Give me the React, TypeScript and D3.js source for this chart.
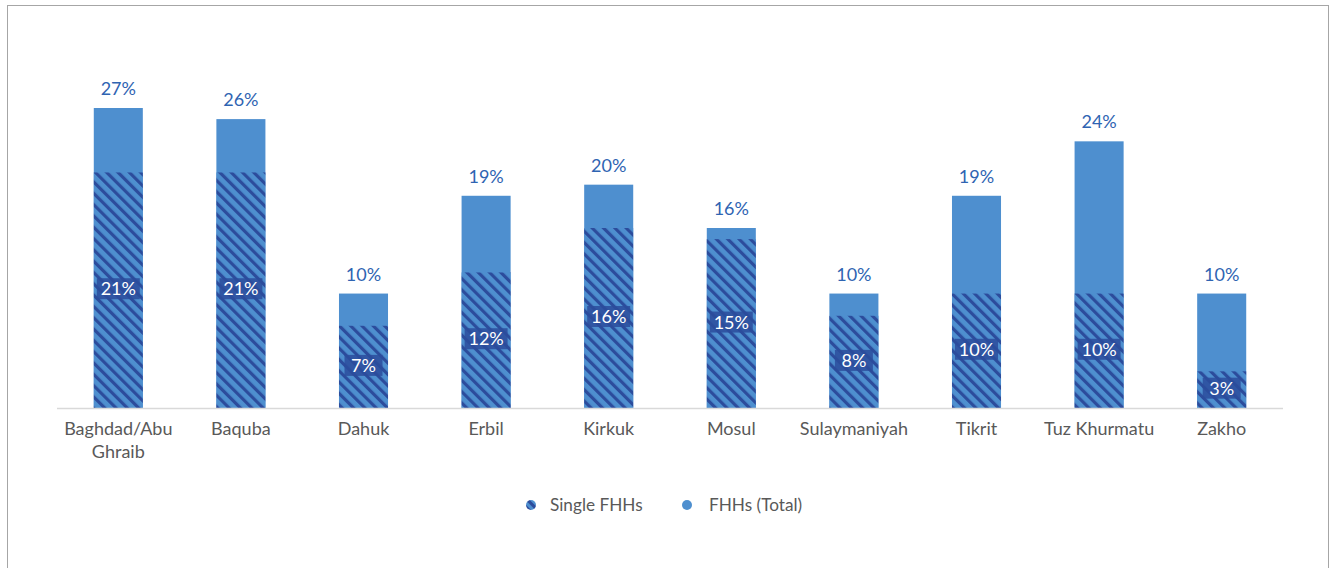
import React from "react";
import * as d3 from "d3";

const categories = ["Baghdad/Abu Ghraib", "Baquba", "Dahuk", "Erbil", "Kirkuk", "Mosul", "Sulaymaniyah", "Tikrit", "Tuz Khurmatu", "Zakho"];
const totalFHHs = [27.0, 26.0, 10.3, 19.1, 20.1, 16.2, 10.3, 19.1, 24.0, 10.3];
const singleFHHs = [21.2, 21.2, 7.4, 12.2, 16.2, 15.2, 8.3, 10.3, 10.3, 3.3];
const seriesNames = ["Single FHHs", "FHHs (Total)"];

const W = 1330;
const H = 568;
const FONT = "Lato, 'Open Sans', sans-serif";
const LIGHT = "#4e8fcf";
const DARK = "#2c4c9c";
const GREY = "#595959";

export default function App() {
  const x = d3.scaleBand<string>().domain(categories).range([57, 1283]).paddingInner(0.6).paddingOuter(0.3);
  const y = d3.scaleLinear().domain([0, 27]).range([408, 108]);
  const bw = x.bandwidth();

  const wrap = (s: string) => {
    if (s === "Baghdad/Abu Ghraib") return ["Baghdad/Abu", "Ghraib"];
    return [s];
  };

  return (
    <svg width={W} height={H} style={{ position: "absolute", left: 0, top: 0, display: "block", background: "#fff" }} fontFamily={FONT}>
      <defs>
        <pattern id="hatch" patternUnits="userSpaceOnUse" width="8" height="8" patternTransform="rotate(-45)">
          <rect width="8" height="8" fill={LIGHT} />
          <rect x="0" y="0" width="3.2" height="8" fill={DARK} />
        </pattern>
        <pattern id="hatchL" patternUnits="userSpaceOnUse" width="6" height="6" patternTransform="rotate(-45)">
          <rect width="6" height="6" fill={LIGHT} />
          <rect x="0" y="0" width="3" height="6" fill={DARK} />
        </pattern>
      </defs>
      <rect x={7.5} y={5.5} width={1321} height={600} fill="#fff" stroke="#a6a6a6" strokeWidth={1} />
      {categories.map((c, i) => {
        const bx = x(c)!;
        return (
          <g key={c}>
            <rect x={bx} y={y(totalFHHs[i])} width={bw} height={y(0) - y(totalFHHs[i])} fill={LIGHT} />
            <rect x={bx} y={y(singleFHHs[i])} width={bw} height={y(0) - y(singleFHHs[i])} fill="url(#hatch)" />
          </g>
        );
      })}
      <line x1={57} x2={1283} y1={408.5} y2={408.5} stroke="#d9d9d9" strokeWidth={1.5} />
      {categories.map((c, i) => {
        const cx = x(c)! + bw / 2;
        const sMid = (y(singleFHHs[i]) + y(0)) / 2;
        const lab = `${Math.round(singleFHHs[i])}%`;
        const boxW = lab.length === 3 ? 43 : 38;
        return (
          <g key={c + "l"}>
            <text x={cx} y={y(totalFHHs[i]) - 13} textAnchor="middle" fontSize={18} fill="#2f64b2">
              {`${Math.round(totalFHHs[i])}%`}
            </text>
            <rect x={cx - boxW / 2} y={sMid - 12} width={boxW} height={21} fill={DARK} opacity={0.85} />
            <text x={cx} y={sMid + 5} textAnchor="middle" fontSize={18} fill="#fff">
              {lab}
            </text>
            {wrap(c).map((t, j) => (
              <text key={j} x={cx} y={434.5 + j * 23} textAnchor="middle" fontSize={18} fill={GREY}>
                {t}
              </text>
            ))}
          </g>
        );
      })}
      <g>
        <circle cx={531} cy={505} r={5} fill="url(#hatchL)" />
        <text x={550} y={511} fontSize={17.2} fill={GREY}>{seriesNames[0]}</text>
        <circle cx={687} cy={505} r={5} fill={LIGHT} />
        <text x={709} y={511} fontSize={17.2} fill={GREY}>{seriesNames[1]}</text>
      </g>
    </svg>
  );
}
